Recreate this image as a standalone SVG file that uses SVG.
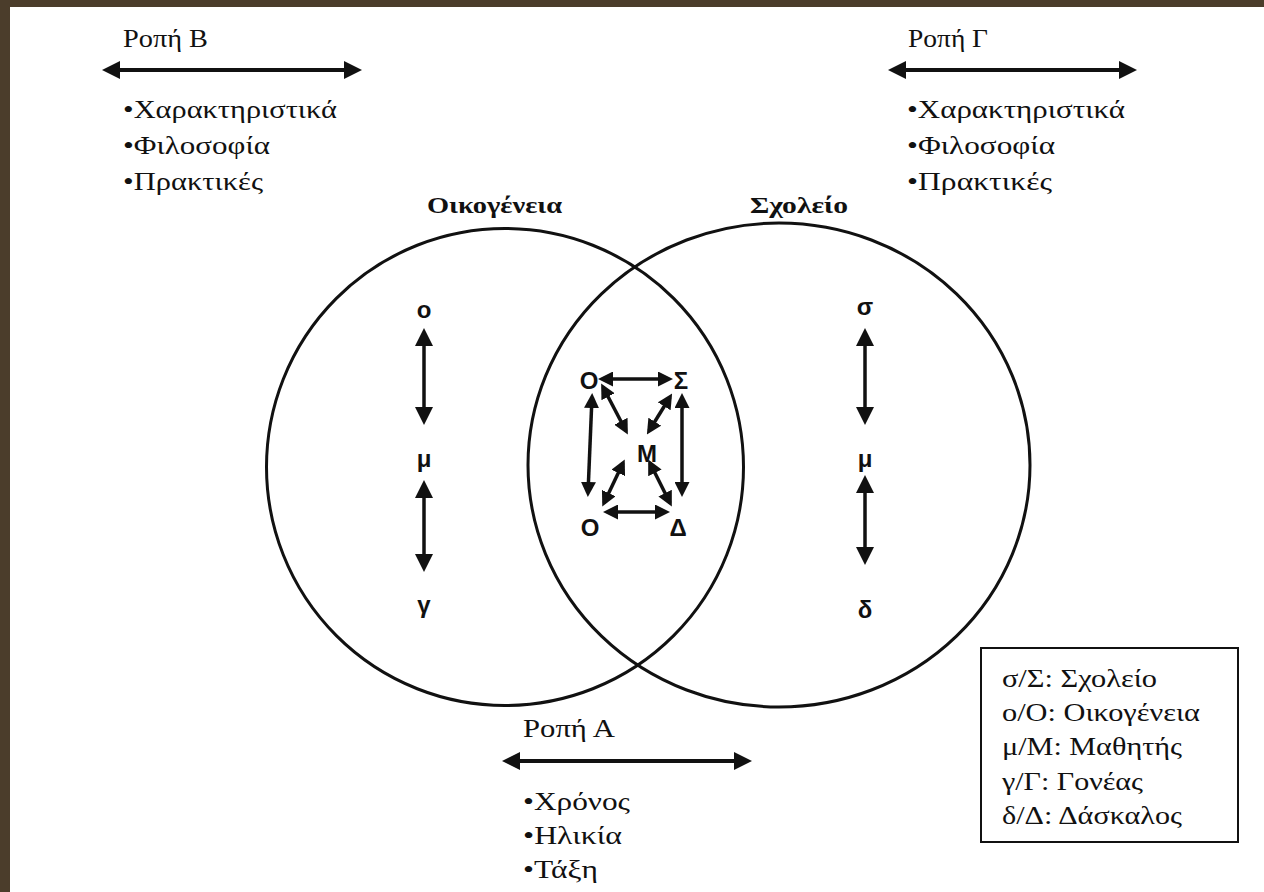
<svg xmlns="http://www.w3.org/2000/svg" width="1264" height="892" viewBox="0 0 1264 892">
<style>
.ser{font-family:"Liberation Serif","Times New Roman",serif;font-size:26px;fill:#111}
.bold{font-family:"Liberation Serif","Times New Roman",serif;font-size:24px;font-weight:bold;fill:#111}
.lab{font-family:"Liberation Sans",Arial,sans-serif;font-size:24px;font-weight:bold;fill:#111;text-anchor:middle}
.circ{fill:none;stroke:#111;stroke-width:3}
.big{stroke:#111;stroke-width:4;fill:none;marker-start:url(#bigH);marker-end:url(#bigH)}
.col{stroke:#111;stroke-width:3.5;fill:none;marker-start:url(#bigH);marker-end:url(#bigH)}
.sm{stroke:#111;stroke-width:3.5;fill:none;marker-start:url(#smH);marker-end:url(#smH)}
</style>
<defs>
<marker id="bigH" markerUnits="userSpaceOnUse" markerWidth="18" markerHeight="18" refX="14" refY="9" orient="auto-start-reverse" viewBox="0 0 18 18">
<path d="M0,0 L18,9 L0,18 z" fill="#111"/>
</marker>
<marker id="smH" markerUnits="userSpaceOnUse" markerWidth="15" markerHeight="15" refX="11" refY="7.5" orient="auto-start-reverse" viewBox="0 0 15 15">
<path d="M0,0 L15,7.5 L0,15 z" fill="#111"/>
</marker>
</defs>
<rect x="0" y="0" width="1264" height="892" fill="#ffffff"/>
<rect x="0" y="0" width="1264" height="7" fill="#4b3d2b"/>
<rect x="0" y="0" width="10" height="892" fill="#4b3d2b"/>

<g id="circle-family">
<circle class="circ" cx="505" cy="467" r="238.5"/>
<text class="bold" x="427" y="213" textLength="135" lengthAdjust="spacingAndGlyphs">Οικογένεια</text>
</g>
<g id="circle-school">
<ellipse class="circ" cx="779" cy="465" rx="251" ry="242"/>
<text class="bold" x="750" y="213" textLength="98" lengthAdjust="spacingAndGlyphs">Σχολείο</text>
</g>

<g id="ropi-b">
<text class="ser" x="123" y="47" textLength="85" lengthAdjust="spacingAndGlyphs">Ροπή Β</text>
<text class="ser" x="123" y="118" textLength="214" lengthAdjust="spacingAndGlyphs">•Χαρακτηριστικά</text>
<text class="ser" x="123" y="154" textLength="147" lengthAdjust="spacingAndGlyphs">•Φιλοσοφία</text>
<text class="ser" x="123" y="190" textLength="140" lengthAdjust="spacingAndGlyphs">•Πρακτικές</text>
</g>
<g id="ropi-g">
<text class="ser" x="908" y="47" textLength="80" lengthAdjust="spacingAndGlyphs">Ροπή Γ</text>
<text class="ser" x="907" y="118" textLength="218" lengthAdjust="spacingAndGlyphs">•Χαρακτηριστικά</text>
<text class="ser" x="907" y="154" textLength="148" lengthAdjust="spacingAndGlyphs">•Φιλοσοφία</text>
<text class="ser" x="907" y="190" textLength="145" lengthAdjust="spacingAndGlyphs">•Πρακτικές</text>
</g>
<g id="ropi-a">
<text class="ser" x="523" y="737" textLength="92" lengthAdjust="spacingAndGlyphs">Ροπή Α</text>
<text class="ser" x="523" y="810" textLength="107" lengthAdjust="spacingAndGlyphs">•Χρόνος</text>
<text class="ser" x="523" y="844" textLength="99" lengthAdjust="spacingAndGlyphs">•Ηλικία</text>
<text class="ser" x="523" y="878" textLength="75" lengthAdjust="spacingAndGlyphs">•Τάξη</text>
</g>

<g id="family-column">
<text class="lab" x="424" y="318">ο</text>
<text class="lab" x="424" y="467">μ</text>
<text class="lab" x="424" y="613">γ</text>
</g>
<g id="school-column">
<text class="lab" x="865" y="315">σ</text>
<text class="lab" x="865" y="467">μ</text>
<text class="lab" x="865" y="618">δ</text>
</g>
<g id="center-nodes">
<text class="lab" x="589" y="389">Ο</text>
<text class="lab" x="681" y="389">Σ</text>
<text class="lab" x="647" y="462">Μ</text>
<text class="lab" x="590" y="536">Ο</text>
<text class="lab" x="678" y="536">Δ</text>
</g>

<g id="legend">
<rect x="981" y="648" width="257" height="194" fill="#fff" stroke="#111" stroke-width="2"/>
<text class="ser" x="1002" y="687" textLength="155" lengthAdjust="spacingAndGlyphs">σ/Σ: Σχολείο</text>
<text class="ser" x="1002" y="721" textLength="198" lengthAdjust="spacingAndGlyphs">ο/Ο: Οικογένεια</text>
<text class="ser" x="1002" y="755" textLength="180" lengthAdjust="spacingAndGlyphs">μ/Μ: Μαθητής</text>
<text class="ser" x="1002" y="790" textLength="141" lengthAdjust="spacingAndGlyphs">γ/Γ: Γονέας</text>
<text class="ser" x="1002" y="824" textLength="180" lengthAdjust="spacingAndGlyphs">δ/Δ: Δάσκαλος</text>
</g>

<g id="connectors">
<line class="big" x1="106" y1="70" x2="358" y2="70"/>
<line class="big" x1="892" y1="70" x2="1133" y2="70"/>
<line class="big" x1="506" y1="761" x2="748" y2="761"/>

<line class="col" x1="424" y1="332" x2="424" y2="421"/>
<line class="col" x1="424" y1="484" x2="424" y2="568"/>
<line class="col" x1="865" y1="332" x2="865" y2="421"/>
<line class="col" x1="865" y1="479" x2="865" y2="561"/>

<line class="sm" x1="602" y1="379" x2="669" y2="379"/>
<line class="sm" x1="603" y1="387" x2="626" y2="431"/>
<line class="sm" x1="670" y1="397" x2="649" y2="431"/>
<line class="sm" x1="592" y1="397" x2="588" y2="493"/>
<line class="sm" x1="682" y1="397" x2="682" y2="493"/>
<line class="sm" x1="623" y1="463" x2="604" y2="503"/>
<line class="sm" x1="650" y1="463" x2="670" y2="503"/>
<line class="sm" x1="607" y1="512" x2="666" y2="512"/>
</g>
</svg>
